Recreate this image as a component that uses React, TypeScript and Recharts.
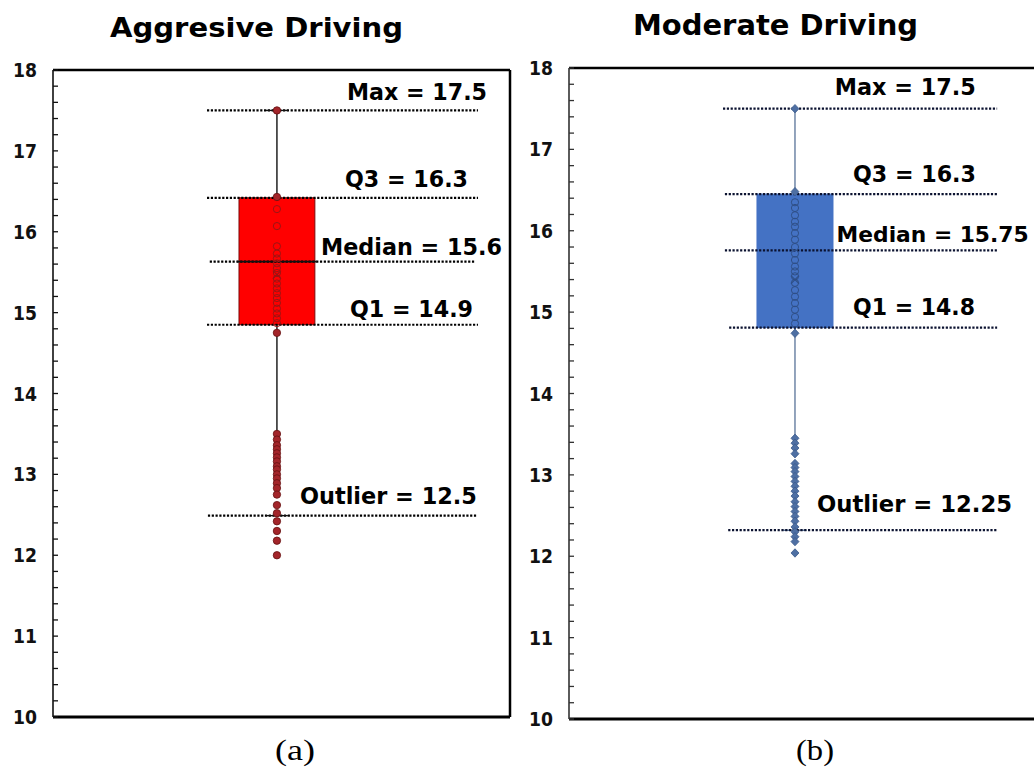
import React from 'react';
import { ComposedChart, XAxis, YAxis, Scatter, ReferenceLine, ReferenceArea } from 'recharts';

// ---------- data ----------
const Y_TICKS = [
  10, 10.2, 10.4, 10.6, 10.8, 11, 11.2, 11.4, 11.6, 11.8, 12, 12.2, 12.4, 12.6, 12.8,
  13, 13.2, 13.4, 13.6, 13.8, 14, 14.2, 14.4, 14.6, 14.8, 15, 15.2, 15.4, 15.6, 15.8,
  16, 16.2, 16.4, 16.6, 16.8, 17, 17.2, 17.4, 17.6, 17.8, 18,
];

// Aggressive driving
const A_STATS = [17.5, 16.42, 15.63, 14.85, 13.5]; // max, q3, median, q1, lower whisker end
const A_OUTLIER_LINE = 12.49;
const A_MEAN = 15.47;
const A_LINE_VALUES = [17.5, 16.42, 15.63, 14.85, 12.49];
const A_LABELS = ['Max = 17.5', 'Q3 = 16.3', 'Median = 15.6', 'Q1 = 14.9', 'Outlier = 12.5'];
const A_BOX_POINTS = [16.28, 16.07, 15.82, 15.73, 15.67, 15.61, 15.55, 15.49, 15.42, 15.36, 15.3, 15.24, 15.18, 15.12, 15.05, 14.99, 14.93, 14.87];
const A_POINTS = [17.5, 16.43, 14.75, 13.5, 13.43, 13.36, 13.31, 13.26, 13.21, 13.16, 13.1, 13.06, 13.0, 12.95, 12.89, 12.83, 12.75, 12.62, 12.52, 12.42, 12.3, 12.18, 12.0];

// Moderate driving
const M_STATS = [17.5, 16.45, 15.76, 14.81, 13.45];
const M_OUTLIER_LINE = 12.32;
const M_MEAN = 15.4;
const M_LINE_VALUES = [17.5, 16.45, 15.76, 14.81, 12.32];
const M_LABELS = ['Max = 17.5', 'Q3 = 16.3', 'Median = 15.75', 'Q1 = 14.8', 'Outlier = 12.25'];
const M_BOX_POINTS = [16.35, 16.28, 16.19, 16.11, 16.05, 15.97, 15.89, 15.8, 15.72, 15.64, 15.56, 15.5, 15.44, 15.36, 15.27, 15.19, 15.11, 15.03, 14.94, 14.86];
const M_POINTS = [17.5, 16.48, 14.74, 13.45, 13.39, 13.33, 13.26, 13.14, 13.09, 13.04, 12.98, 12.92, 12.86, 12.8, 12.74, 12.67, 12.61, 12.55, 12.49, 12.43, 12.36, 12.3, 12.24, 12.18, 12.04];

const BOLD = '"DejaVu Sans", Arial, sans-serif';
const SERIF = '"Liberation Serif", "Times New Roman", serif';

type Layout = {
  left: number; top: number; width: number; height: number;
  margin: { top: number; right: number; bottom: number; left: number };
  yAxisWidth: number;
  center: number; halfWidth: number;
  lineStart: number[]; lineEnd: number[];
  labelX: number[]; labelW: number[]; labelDy: number[]; labelSize: number[];
  capHalf: number;
  boxFill: string; boxStroke: string; whisker: string; whiskerWidth: number;
  pointFill: string; pointStroke: string; hollowStroke: string;
  diamond: boolean; dotsOnTop: boolean; dotColor: string;
  leftAxisColor: string; leftAxisWidth: number; showRight: boolean;
  medianSolid: boolean; topCap: boolean;
};

const YTick = (props: any) => {
  const { x, y, payload, color } = props;
  const v = payload.value;
  const major = Math.abs(v - Math.round(v)) < 1e-6;
  return (
    <g>
      <line x1={x} x2={x + 5} y1={y} y2={y} stroke={color} strokeWidth={1.3} />
      {major && (
        <text
          x={x - 16}
          y={y}
          dy="0.37em"
          textAnchor="end"
          style={{ fontFamily: BOLD, fontWeight: 'bold', fontSize: '19px' }}
          fill="#111"
          textLength={24}
          lengthAdjust="spacingAndGlyphs"
        >
          {Math.round(v)}
        </text>
      )}
    </g>
  );
};

function Panel({ L, stats, outlierLine, mean, lineValues, labels, boxPoints, points }: any) {
  const lay = L as Layout;
  const [max, q3, median, q1, wLow] = stats;
  const c = lay.center;
  const boxPts = boxPoints.map((v: number) => ({ x: c, y: v }));
  const pts = points.map((v: number) => ({ x: c, y: v }));
  const labelData = labels.map((t: string, i: number) => ({
    x: lay.labelX[i], y: lineValues[i], text: t, w: lay.labelW[i], dy: lay.labelDy[i], fs: lay.labelSize[i],
  }));

  const dotted = lineValues.map((v: number, i: number) => (
    <ReferenceLine
      key={'d' + i}
      segment={[{ x: lay.lineStart[i], y: v }, { x: lay.lineEnd[i], y: v }]}
      stroke={lay.dotColor}
      strokeWidth={2.2}
      strokeDasharray="2.2 1.6"
      ifOverflow="visible"
    />
  ));

  const filledShape = (p: any) =>
    lay.diamond ? (
      <path d={`M${p.cx},${p.cy - 4.2}L${p.cx + 4},${p.cy}L${p.cx},${p.cy + 4.2}L${p.cx - 4},${p.cy}Z`} fill={lay.pointFill} stroke={lay.pointStroke} strokeWidth={0.8} />
    ) : (
      <circle cx={p.cx} cy={p.cy} r={3.7} fill={lay.pointFill} stroke={lay.pointStroke} strokeWidth={0.8} />
    );
  const hollowShape = (p: any) => <circle cx={p.cx} cy={p.cy} r={3.6} fill="none" stroke={lay.hollowStroke} strokeWidth={1} />;
  const meanShape = (p: any) => (
    <g stroke={lay.hollowStroke} strokeWidth={1.2}>
      <line x1={p.cx - 4} y1={p.cy - 4} x2={p.cx + 4} y2={p.cy + 4} />
      <line x1={p.cx - 4} y1={p.cy + 4} x2={p.cx + 4} y2={p.cy - 4} />
    </g>
  );
  const labelShape = (p: any) => (
    <text
      x={p.cx}
      y={p.cy + p.payload.dy}
      textAnchor="middle"
      style={{ fontFamily: BOLD, fontWeight: 'bold', fontSize: p.payload.fs + 'px' }}
      fill="#000"
      textLength={p.payload.w}
      lengthAdjust="spacingAndGlyphs"
    >
      {p.payload.text}
    </text>
  );

  return (
    <div style={{ position: 'absolute', left: lay.left, top: lay.top }}>
      <ComposedChart width={lay.width} height={lay.height} margin={lay.margin}>
        <XAxis type="number" dataKey="x" domain={[0, 100]} hide allowDataOverflow />
        <YAxis
          type="number"
          dataKey="y"
          domain={[10, 18]}
          ticks={Y_TICKS}
          interval={0}
          width={lay.yAxisWidth}
          axisLine={false}
          tickLine={false}
          tickSize={0}
          tickMargin={0}
          tick={<YTick color={lay.leftAxisColor} />}
          allowDataOverflow
        />
        {/* frame */}
        <ReferenceLine y={18} stroke="#000" strokeWidth={2.5} ifOverflow="visible" />
        <ReferenceLine y={10} stroke="#000" strokeWidth={3} ifOverflow="visible" />
        {lay.showRight && <ReferenceLine x={100} stroke="#000" strokeWidth={2.5} ifOverflow="visible" />}
        <ReferenceLine x={0} stroke={lay.leftAxisColor} strokeWidth={lay.leftAxisWidth} ifOverflow="visible" />

        {!lay.dotsOnTop && dotted}
        {/* whiskers */}
        <ReferenceLine segment={[{ x: c, y: q3 }, { x: c, y: max }]} stroke={lay.whisker} strokeWidth={lay.whiskerWidth} ifOverflow="visible" />
        <ReferenceLine segment={[{ x: c, y: wLow }, { x: c, y: q1 }]} stroke={lay.whisker} strokeWidth={lay.whiskerWidth} ifOverflow="visible" />
        <ReferenceLine segment={[{ x: c - lay.capHalf, y: outlierLine }, { x: c + lay.capHalf, y: outlierLine }]} stroke={lay.whisker} strokeWidth={1.3} ifOverflow="visible" />
        {lay.topCap && <ReferenceLine segment={[{ x: c - lay.capHalf, y: max }, { x: c + lay.capHalf, y: max }]} stroke={lay.whisker} strokeWidth={1.3} ifOverflow="visible" />}
        {/* box */}
        <ReferenceArea x1={c - lay.halfWidth} x2={c + lay.halfWidth} y1={q1} y2={q3} fill={lay.boxFill} fillOpacity={1} stroke={lay.boxStroke} strokeWidth={1} ifOverflow="visible" />
        {lay.medianSolid && (
          <ReferenceLine segment={[{ x: c - lay.halfWidth - 0.4, y: median }, { x: c + lay.halfWidth + 0.4, y: median }]} stroke="#111" strokeWidth={1.8} ifOverflow="visible" />
        )}
        {lay.dotsOnTop && dotted}
        <Scatter data={boxPts} shape={hollowShape} isAnimationActive={false} />
        <Scatter data={[{ x: c, y: mean }]} shape={meanShape} isAnimationActive={false} />
        <Scatter data={pts} shape={filledShape} isAnimationActive={false} />
        <Scatter data={labelData} shape={labelShape} isAnimationActive={false} />
      </ComposedChart>
    </div>
  );
}

const LAYOUT_A: Layout = {
  left: 0, top: 0, width: 520, height: 767,
  margin: { top: 70, right: 10, bottom: 50, left: 0 },
  yAxisWidth: 53,
  center: 49.0, halfWidth: 8.3,
  lineStart: [33.7, 33.7, 34.3, 33.7, 33.9], lineEnd: [93.0, 93.0, 92.3, 93.0, 92.8],
  labelX: [79.65, 77.35, 78.45, 78.45, 73.4], labelW: [140, 123, 181, 123, 177], labelDy: [-10.5, -10.7, -7, -8, -12],
  labelSize: [23, 23, 23, 23, 23],
  capHalf: 2.4,
  boxFill: '#ff0000', boxStroke: '#7a0a0a', whisker: '#111', whiskerWidth: 1.4,
  pointFill: '#a3252a', pointStroke: '#651010', hollowStroke: '#9a1515',
  diamond: false, dotsOnTop: false, dotColor: '#000',
  leftAxisColor: '#111', leftAxisWidth: 1.6, showRight: true,
  medianSolid: true, topCap: true,
};

const LAYOUT_M: Layout = {
  left: 520, top: 0, width: 530, height: 767,
  margin: { top: 68, right: 10, bottom: 48, left: 0 },
  yAxisWidth: 49,
  center: 47.98, halfWidth: 8.07,
  lineStart: [32.7, 33.1, 33.1, 34.0, 33.8], lineEnd: [90.9, 90.9, 90.9, 90.9, 90.9],
  labelX: [71.4, 73.35, 77.2, 73.25, 73.35], labelW: [141, 123, 192, 122, 195], labelDy: [-13.3, -12, -8, -13, -18],
  labelSize: [23, 23, 22, 23, 23],
  capHalf: 2.5,
  boxFill: '#4472c4', boxStroke: '#4472c4', whisker: '#4a6790', whiskerWidth: 1.2,
  pointFill: '#4e6fa3', pointStroke: '#3b5a8c', hollowStroke: '#2f4f86',
  diamond: true, dotsOnTop: true, dotColor: '#0b1230',
  leftAxisColor: '#333', leftAxisWidth: 1.6, showRight: false,
  medianSolid: false, topCap: false,
};

export default function App() {
  return (
    <div style={{ position: 'absolute', left: 0, top: 0, width: 1034, height: 767, overflow: 'hidden', background: '#fff' }}>
      <Panel L={LAYOUT_A} stats={A_STATS} outlierLine={A_OUTLIER_LINE} mean={A_MEAN} lineValues={A_LINE_VALUES} labels={A_LABELS} boxPoints={A_BOX_POINTS} points={A_POINTS} />
      <Panel L={LAYOUT_M} stats={M_STATS} outlierLine={M_OUTLIER_LINE} mean={M_MEAN} lineValues={M_LINE_VALUES} labels={M_LABELS} boxPoints={M_BOX_POINTS} points={M_POINTS} />
      <svg width={1034} height={767} style={{ position: 'absolute', left: 0, top: 0, pointerEvents: 'none' }}>
        <text x={256.5} y={37} textAnchor="middle" style={{ fontFamily: BOLD, fontWeight: 'bold', fontSize: '27px' }} textLength={293} lengthAdjust="spacingAndGlyphs" fill="#000">
          Aggresive  Driving
        </text>
        <text x={775.5} y={35} textAnchor="middle" style={{ fontFamily: BOLD, fontWeight: 'bold', fontSize: '28px' }} textLength={285} lengthAdjust="spacingAndGlyphs" fill="#000">
          Moderate  Driving
        </text>
        <text x={295} y={760} textAnchor="middle" style={{ fontFamily: SERIF, fontSize: '30px' }} textLength={40} lengthAdjust="spacingAndGlyphs" fill="#000">(a)</text>
        <text x={815} y={760} textAnchor="middle" style={{ fontFamily: SERIF, fontSize: '30px' }} textLength={38} lengthAdjust="spacingAndGlyphs" fill="#000">(b)</text>
      </svg>
    </div>
  );
}
